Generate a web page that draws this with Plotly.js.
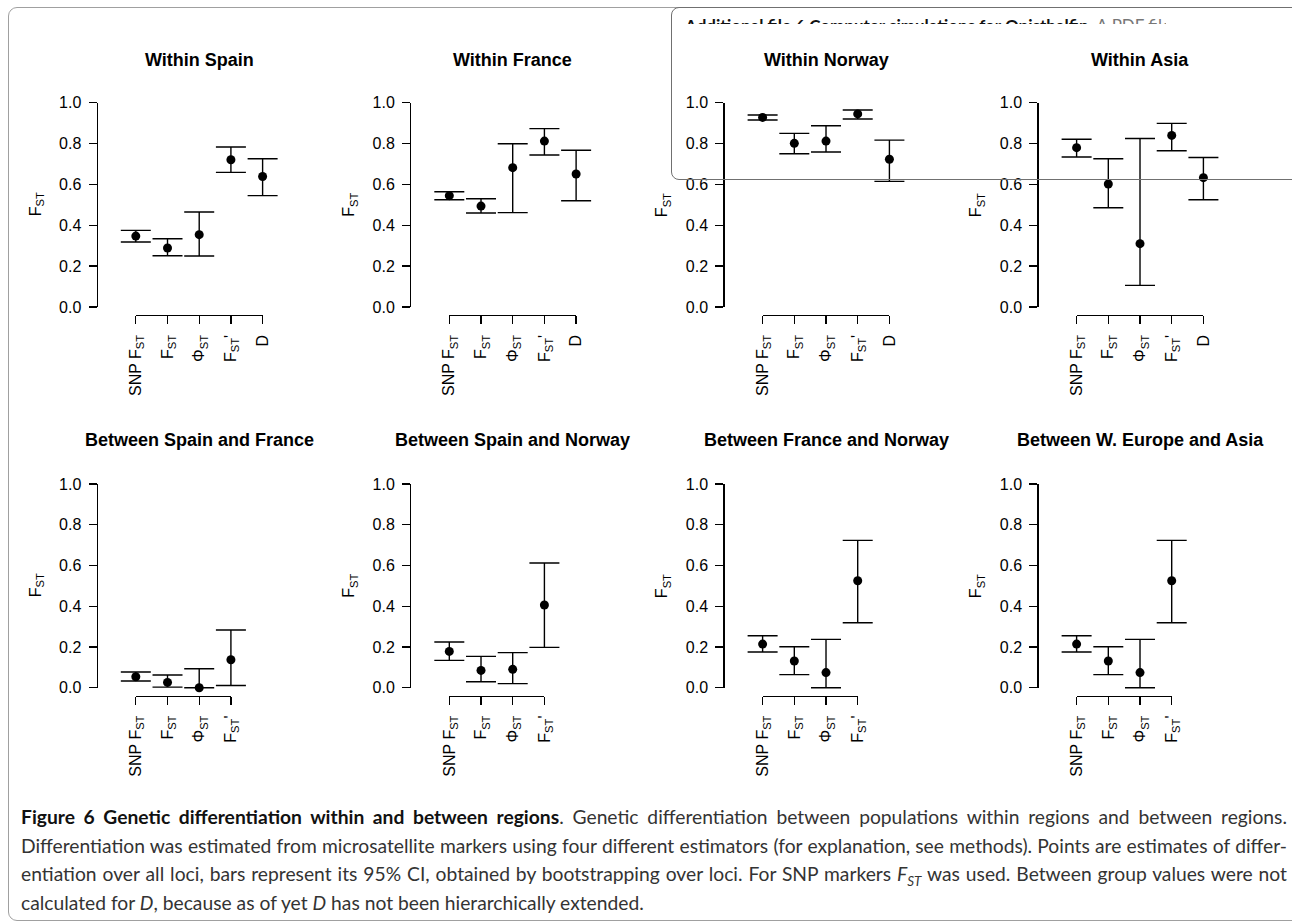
<!DOCTYPE html>
<html>
<head>
<meta charset="utf-8">
<script src="https://cdn.plot.ly/plotly-3.0.1.min.js"></script>
<style>
html,body{margin:0;padding:0;background:#fff;width:1292px;height:924px;overflow:hidden;}
#chart{position:absolute;left:0;top:0;width:1292px;height:924px;}
#frame{position:absolute;left:8px;top:7px;width:1320px;height:914px;border:1px solid #a0a0a0;border-radius:9px;box-sizing:border-box;pointer-events:none;}
#tip{position:absolute;left:671px;top:7px;width:640px;height:173px;border:1px solid #707070;border-radius:8px;box-sizing:border-box;pointer-events:none;}
#tipclip{position:absolute;left:685px;top:8px;width:481px;height:16px;overflow:hidden;white-space:nowrap;font-family:Lato,"Open Sans",sans-serif;font-size:17px;line-height:20px;pointer-events:none;}
#tipclip .in{position:relative;top:8px;}
#tipclip .b{font-weight:bold;color:#111;}
#tipclip .g{color:#777;}
#caption{position:absolute;left:21px;top:803px;width:1266px;font-family:Lato,"Open Sans",sans-serif;color:#333;}
#caption .cl{height:28.5px;line-height:28.5px;text-align:justify;text-align-last:justify;}
#caption .cl.last{text-align-last:left;}
#caption b{color:#111;}
</style>
</head>
<body>
<div id="chart"></div>
<div id="frame"></div>
<div id="tip"></div>
<div id="tipclip"><div class="in"><span class="b">Additional file 6 Computer simulations for Opisthalfin.</span> <span class="g">A PDF file</span></div></div>
<div id="caption">
<div class="cl"><b>Figure 6 Genetic differentiation within and between regions</b>. Genetic differentiation between populations within regions and between regions.</div>
<div class="cl">Differentiation was estimated from microsatellite markers using four different estimators (for explanation, see methods). Points are estimates of differ-</div>
<div class="cl">entiation over all loci, bars represent its 95% CI, obtained by bootstrapping over loci. For SNP markers <i>F<sub style="font-size:70%">ST</sub></i> was used. Between group values were not</div>
<div class="cl last">calculated for <i>D</i>, because as of yet <i>D</i> has not been hierarchically extended.</div>
</div>
<script>
// ---------- data ----------
const panelTitles = ["Within Spain","Within France","Within Norway","Within Asia",
  "Between Spain and France","Between Spain and Norway","Between France and Norway","Between W. Europe and Asia"];
const withinLabels  = ["SNP F<sub>ST</sub>","F<sub>ST</sub>","Φ<sub>ST</sub>","F<sub>ST</sub>'","D"];
const betweenLabels = ["SNP F<sub>ST</sub>","F<sub>ST</sub>","Φ<sub>ST</sub>","F<sub>ST</sub>'"];
const yTickVals = [0,0.2,0.4,0.6,0.8,1.0];
const yTickText = ["0.0","0.2","0.4","0.6","0.8","1.0"];

const estWithinSpain  = [0.347,0.289,0.354,0.721,0.639];
const lowWithinSpain  = [0.318,0.251,0.250,0.659,0.545];
const highWithinSpain = [0.375,0.334,0.465,0.783,0.726];

const estWithinFrance  = [0.545,0.494,0.682,0.812,0.651];
const lowWithinFrance  = [0.525,0.460,0.462,0.744,0.520];
const highWithinFrance = [0.564,0.530,0.799,0.873,0.767];

const estWithinNorway  = [0.928,0.801,0.812,0.945,0.723];
const lowWithinNorway  = [0.915,0.750,0.759,0.920,0.615];
const highWithinNorway = [0.940,0.850,0.887,0.964,0.817];

const estWithinAsia  = [0.780,0.602,0.310,0.840,0.633];
const lowWithinAsia  = [0.734,0.486,0.106,0.765,0.525];
const highWithinAsia = [0.821,0.726,0.825,0.899,0.732];

const estSpainFrance  = [0.054,0.026,0.000,0.137];
const lowSpainFrance  = [0.033,0.003,0.000,0.011];
const highSpainFrance = [0.077,0.062,0.093,0.283];

const estSpainNorway  = [0.178,0.085,0.090,0.406];
const lowSpainNorway  = [0.134,0.029,0.020,0.198];
const highSpainNorway = [0.224,0.154,0.172,0.612];

const estFranceNorway  = [0.214,0.131,0.074,0.525];
const lowFranceNorway  = [0.175,0.064,0.000,0.319];
const highFranceNorway = [0.255,0.201,0.237,0.723];

const estEuropeAsia  = [0.214,0.131,0.074,0.525];
const lowEuropeAsia  = [0.175,0.064,0.000,0.319];
const highEuropeAsia = [0.255,0.201,0.237,0.723];

const panels = [
  {labels:withinLabels,  est:estWithinSpain,  lo:lowWithinSpain,  hi:highWithinSpain},
  {labels:withinLabels,  est:estWithinFrance, lo:lowWithinFrance, hi:highWithinFrance},
  {labels:withinLabels,  est:estWithinNorway, lo:lowWithinNorway, hi:highWithinNorway},
  {labels:withinLabels,  est:estWithinAsia,   lo:lowWithinAsia,   hi:highWithinAsia},
  {labels:betweenLabels, est:estSpainFrance,  lo:lowSpainFrance,  hi:highSpainFrance},
  {labels:betweenLabels, est:estSpainNorway,  lo:lowSpainNorway,  hi:highSpainNorway},
  {labels:betweenLabels, est:estFranceNorway, lo:lowFranceNorway, hi:highFranceNorway},
  {labels:betweenLabels, est:estEuropeAsia,   lo:lowEuropeAsia,   hi:highEuropeAsia}
];

// ---------- geometry (pixels) ----------
const W = 1292, H = 924;
const colLeft = [96.5, 410, 723.3, 1037.3];   // left edge of R plot region
const unitX = 31.7, xMin = -0.24, xMax = 6.24;
const rowOnePx = [102.7, 484];                // pixel of y = 1
const unitY = [204.3, 203.7];
const yMin = -0.04, yMax = 1.04;
const titlePx = [60, 440];
const fx = p => p / W, fy = p => 1 - p / H;
const FONT = '"Liberation Sans", Arial, Helvetica, sans-serif';

const traces = [], annotations = [];
const layout = {
  width: W, height: H, margin: {l:0, r:0, t:0, b:0},
  paper_bgcolor: 'rgba(0,0,0,0)', plot_bgcolor: 'rgba(0,0,0,0)',
  showlegend: false, hovermode: false,
  font: {family: FONT, color: '#000', size: 15}
};
const aid = i => (i === 1 ? '' : String(i));
const axStyle = {showline: true, linecolor: '#000', linewidth: 1.3, ticks: 'outside', ticklen: 8,
  tickwidth: 1.3, tickcolor: '#000', showgrid: false, zeroline: false, fixedrange: true,
  tickfont: {family: FONT, size: 16, color: '#000'}, tickmode: 'array'};

panels.forEach((pn, p) => {
  const col = p % 4, row = Math.floor(p / 4);
  const L = colLeft[col];
  const n = pn.labels.length;
  const dK = 2 * p + 1;   // data axes (full plot region, hidden)
  const aK = 2 * p + 2;   // drawn axes (line only from first to last tick)
  const yTop = rowOnePx[row] + (1 - yMax) * unitY[row];
  const yBot = rowOnePx[row] + (1 - yMin) * unitY[row];
  const xs = pn.est.map((_, i) => i + 1);

  layout['xaxis' + aid(dK)] = {domain: [fx(L), fx(L + (xMax - xMin) * unitX)], range: [xMin, xMax],
    anchor: 'y' + aid(dK), visible: false, fixedrange: true};
  layout['yaxis' + aid(dK)] = {domain: [fy(yBot), fy(yTop)], range: [yMin, yMax],
    anchor: 'x' + aid(dK), visible: false, fixedrange: true};

  layout['xaxis' + aid(aK)] = Object.assign({}, axStyle, {
    domain: [fx(L + (1 - xMin) * unitX), fx(L + (n - xMin) * unitX)], range: [1, n],
    anchor: 'free', position: fy(yBot),
    tickvals: xs, ticktext: pn.labels, tickangle: -90, ticklabelstandoff: 4});
  layout['yaxis' + aid(aK)] = Object.assign({}, axStyle, {
    domain: [fy(rowOnePx[row] + unitY[row]), fy(rowOnePx[row])], range: [0, 1],
    anchor: 'free', position: fx(L),
    tickvals: yTickVals, ticktext: yTickText, ticklabelstandoff: 4});

  // estimates with 95% CI
  traces.push({
    type: 'scatter', mode: 'markers', xaxis: 'x' + aid(dK), yaxis: 'y' + aid(dK),
    x: xs, y: pn.est, cliponaxis: false,
    marker: {color: '#000', size: 9, symbol: 'circle'},
    error_y: {type: 'data', symmetric: false,
      array: pn.hi.map((h, i) => h - pn.est[i]),
      arrayminus: pn.lo.map((l, i) => pn.est[i] - l),
      color: '#000', thickness: 1.4, width: 15}
  });
  // transparent copy so the drawn axes own a subplot
  traces.push({
    type: 'scatter', mode: 'markers', xaxis: 'x' + aid(aK), yaxis: 'y' + aid(aK),
    x: xs, y: pn.est, marker: {opacity: 0, size: 1}, hoverinfo: 'skip'
  });

  annotations.push({xref: 'paper', yref: 'paper',
    x: fx(L + (xMax - xMin) * unitX / 2), y: fy(titlePx[row]),
    xanchor: 'center', yanchor: 'middle', showarrow: false,
    text: '<b>' + panelTitles[p] + '</b>', font: {family: FONT, size: 18, color: '#000'}});
  annotations.push({xref: 'paper', yref: 'paper',
    x: fx(L - 60), y: fy(rowOnePx[row] + unitY[row] / 2),
    xanchor: 'center', yanchor: 'middle', showarrow: false, textangle: -90,
    text: 'F<sub>ST</sub>', font: {family: FONT, size: 16, color: '#000'}});
});
layout.annotations = annotations;

Plotly.newPlot('chart', traces, layout, {displayModeBar: false, staticPlot: true});

// fit caption lines into the column width
(function fitCaption(){
  const cap = document.getElementById('caption');
  let size = 20;
  const lines = cap.querySelectorAll('.cl');
  function fits(){
    for (const ln of lines) {
      const s = document.createElement('span');
      s.style.whiteSpace = 'nowrap'; s.innerHTML = ln.innerHTML;
      s.style.position = 'absolute'; s.style.visibility = 'hidden';
      cap.appendChild(s);
      const w = s.getBoundingClientRect().width; cap.removeChild(s);
      if (w > 1262) return false;
    }
    return true;
  }
  cap.style.fontSize = size + 'px';
  while (!fits() && size > 10) { size -= 0.25; cap.style.fontSize = size + 'px'; }
})();
</script>
</body>
</html>
